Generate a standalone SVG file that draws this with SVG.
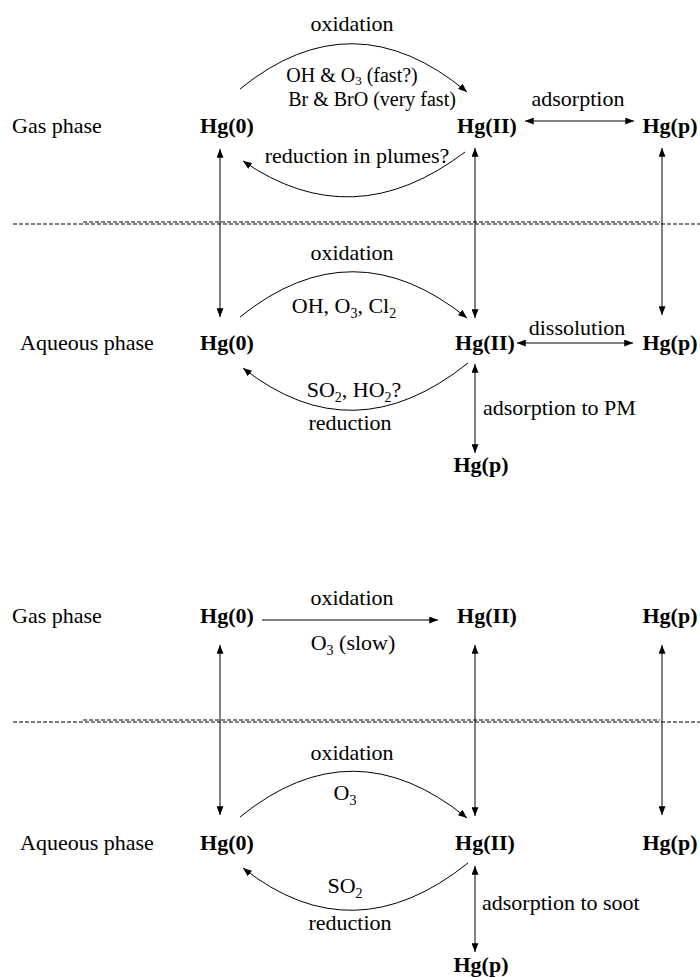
<svg xmlns="http://www.w3.org/2000/svg" width="700" height="977" viewBox="0 0 700 977">
<style>
text{font-family:"Liberation Serif","Times New Roman",serif;font-size:22px;fill:#000}
.n{font-weight:bold;text-anchor:middle}
.l{text-anchor:middle}
.s{font-size:20px}
.sub{font-size:14px}
.sub2{font-size:13px}
.c{fill:none;stroke:#000;stroke-width:1}
.d{fill:none;stroke:#000;stroke-width:1;stroke-dasharray:4 2}
</style>
<defs>
<marker id="ah" viewBox="0 0 10 8" refX="10" refY="4" markerWidth="9" markerHeight="7" markerUnits="userSpaceOnUse" orient="auto-start-reverse">
<path d="M0,0 L10,4 L0,8 Z" fill="#000"/>
</marker>
</defs>
<rect width="700" height="977" fill="#fff"/>

<g id="phase-labels">
<text x="12" y="133">Gas phase</text>
<text x="20" y="350">Aqueous phase</text>
<text x="12" y="623">Gas phase</text>
<text x="20" y="850">Aqueous phase</text>
</g>

<g id="separators">
<line class="d" x1="13" y1="224" x2="700" y2="224"/>
<line class="d" x1="83" y1="222" x2="660" y2="222"/>
<line class="d" x1="13" y1="722" x2="700" y2="722"/>
<line class="d" x1="83" y1="720" x2="660" y2="720"/>
</g>

<g id="connectors">
<!-- top panel -->
<path class="c" d="M240,89 Q353,-3 467,92" marker-end="url(#ah)"/>
<path class="c" d="M465,152 Q353,237 243,161" marker-end="url(#ah)"/>
<line class="c" x1="525" y1="121" x2="634" y2="121" marker-start="url(#ah)" marker-end="url(#ah)"/>
<line class="c" x1="220" y1="149" x2="220" y2="317" marker-start="url(#ah)" marker-end="url(#ah)"/>
<line class="c" x1="475" y1="148" x2="475" y2="318" marker-start="url(#ah)" marker-end="url(#ah)"/>
<line class="c" x1="662" y1="148" x2="662" y2="315" marker-start="url(#ah)" marker-end="url(#ah)"/>
<path class="c" d="M240,317 Q353,226 467,318" marker-end="url(#ah)"/>
<path class="c" d="M468,363 Q353,455 243,368" marker-end="url(#ah)"/>
<line class="c" x1="517" y1="343" x2="633" y2="343" marker-start="url(#ah)" marker-end="url(#ah)"/>
<line class="c" x1="475" y1="364" x2="475" y2="453" marker-start="url(#ah)" marker-end="url(#ah)"/>
<!-- bottom panel -->
<line class="c" x1="262" y1="620" x2="438" y2="620" marker-end="url(#ah)"/>
<line class="c" x1="220" y1="645" x2="220" y2="815" marker-start="url(#ah)" marker-end="url(#ah)"/>
<line class="c" x1="475" y1="645" x2="475" y2="816" marker-start="url(#ah)" marker-end="url(#ah)"/>
<line class="c" x1="662" y1="645" x2="662" y2="815" marker-start="url(#ah)" marker-end="url(#ah)"/>
<path class="c" d="M240,817 Q353,725 467,818" marker-end="url(#ah)"/>
<path class="c" d="M468,863 Q353,955 243,868" marker-end="url(#ah)"/>
<line class="c" x1="475" y1="866" x2="475" y2="952" marker-start="url(#ah)" marker-end="url(#ah)"/>
</g>

<g id="labels">
<text class="l" x="352" y="31">oxidation</text>
<text class="l s" x="352" y="82">OH &amp; O<tspan class="sub2" dy="3">3</tspan><tspan dy="-3"> (fast?)</tspan></text>
<text class="l s" x="372" y="106">Br &amp; BrO (very fast)</text>
<text class="l" x="357" y="163">reduction in plumes?</text>
<text class="l" x="578" y="106">adsorption</text>
<text class="l" x="352" y="260">oxidation</text>
<text class="l" x="344" y="313">OH, O<tspan class="sub" dy="5">3</tspan><tspan dy="-5">, Cl</tspan><tspan class="sub" dy="5">2</tspan></text>
<text class="l" x="354" y="397">SO<tspan class="sub" dy="5">2</tspan><tspan dy="-5">, HO</tspan><tspan class="sub" dy="5">2</tspan><tspan dy="-5">?</tspan></text>
<text class="l" x="350" y="430">reduction</text>
<text class="l" x="577" y="335">dissolution</text>
<text x="483" y="415">adsorption to PM</text>
<text class="l" x="352" y="605">oxidation</text>
<text class="l" x="353" y="650">O<tspan class="sub" dy="5">3</tspan><tspan dy="-5"> (slow)</tspan></text>
<text class="l" x="352" y="760">oxidation</text>
<text class="l" x="345" y="800">O<tspan class="sub" dy="5">3</tspan></text>
<text class="l" x="345" y="893">SO<tspan class="sub" dy="5">2</tspan></text>
<text class="l" x="350" y="930">reduction</text>
<text x="482" y="910">adsorption to soot</text>
</g>

<g id="gas1-hg0"><text class="n" x="227" y="133">Hg(0)</text></g>
<g id="gas1-hgII"><text class="n" x="487" y="133">Hg(II)</text></g>
<g id="gas1-hgp"><text class="n" x="670" y="133">Hg(p)</text></g>
<g id="aq1-hg0"><text class="n" x="227" y="350">Hg(0)</text></g>
<g id="aq1-hgII"><text class="n" x="485" y="350">Hg(II)</text></g>
<g id="aq1-hgp"><text class="n" x="670" y="350">Hg(p)</text></g>
<g id="aq1-hgp-pm"><text class="n" x="481" y="472">Hg(p)</text></g>
<g id="gas2-hg0"><text class="n" x="227" y="623">Hg(0)</text></g>
<g id="gas2-hgII"><text class="n" x="487" y="623">Hg(II)</text></g>
<g id="gas2-hgp"><text class="n" x="670" y="623">Hg(p)</text></g>
<g id="aq2-hg0"><text class="n" x="227" y="850">Hg(0)</text></g>
<g id="aq2-hgII"><text class="n" x="485" y="850">Hg(II)</text></g>
<g id="aq2-hgp"><text class="n" x="670" y="850">Hg(p)</text></g>
<g id="aq2-hgp-soot"><text class="n" x="481" y="972">Hg(p)</text></g>
</svg>
